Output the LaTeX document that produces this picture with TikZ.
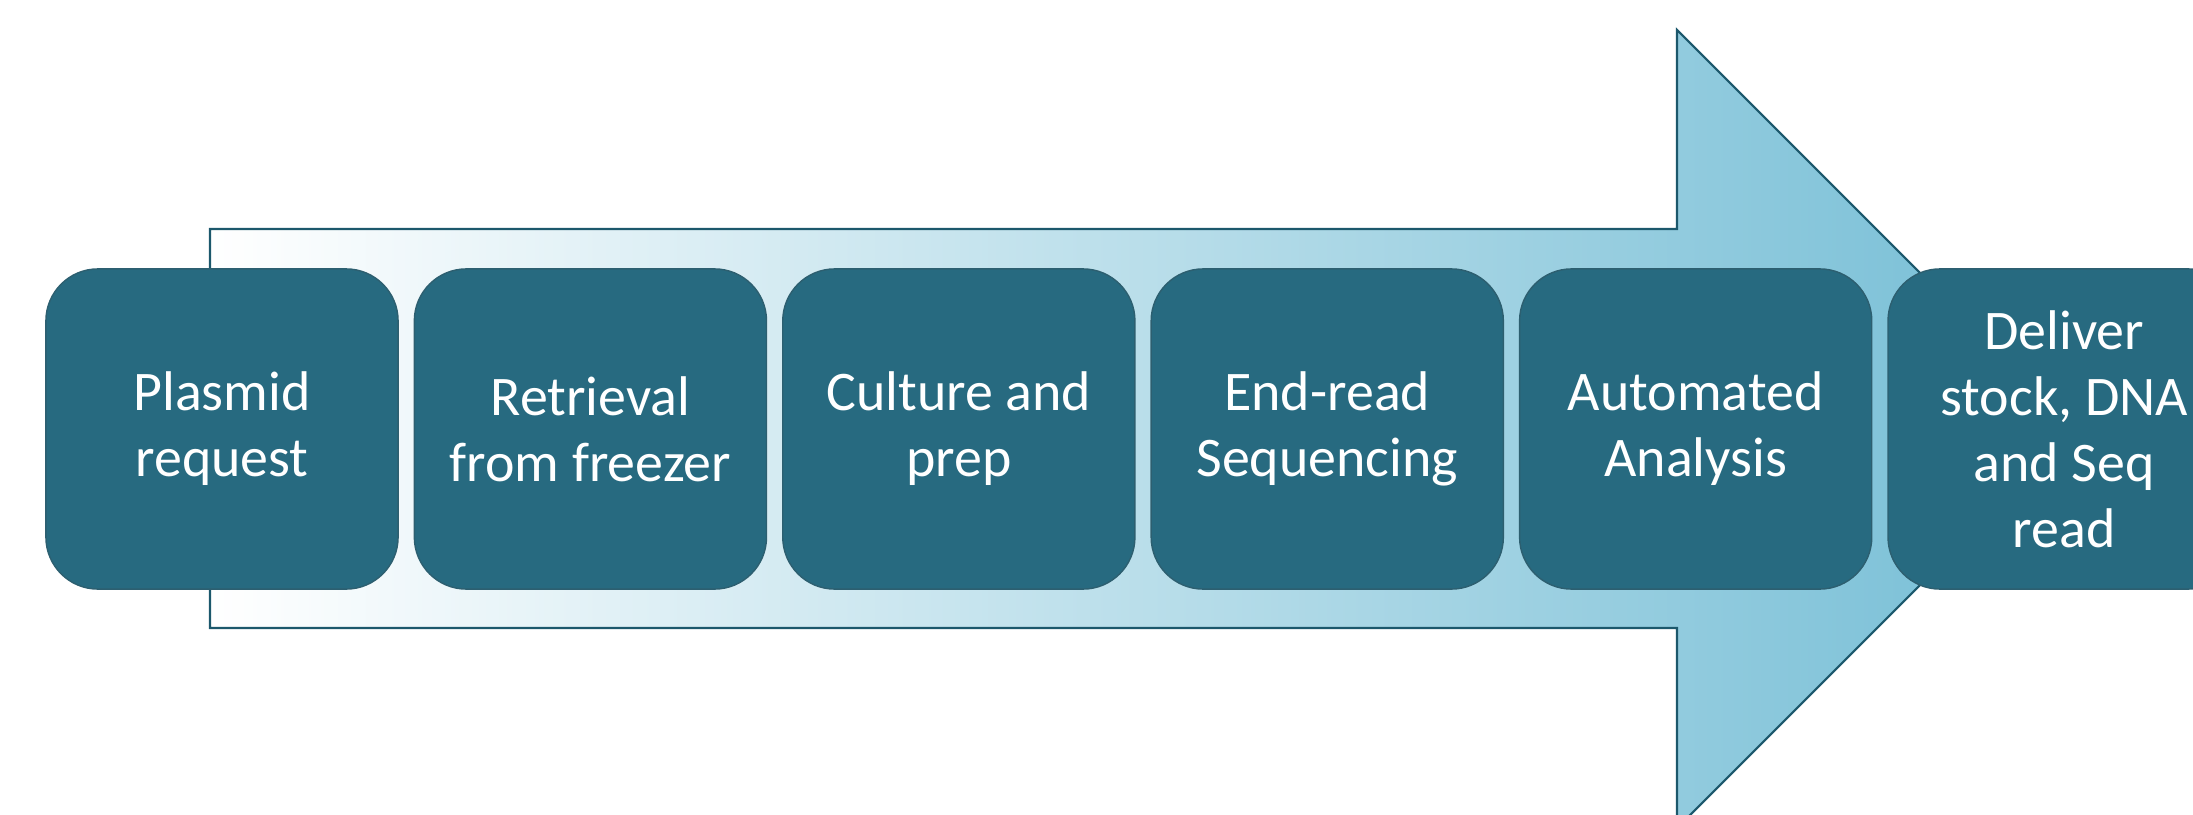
\documentclass[tikz,border=0pt]{standalone}
\usepackage{fontspec}
\setmainfont{Carlito}
\usetikzlibrary{positioning}
\definecolor{stageteal}{RGB}{39,106,128}
\definecolor{stageedge}{RGB}{45,95,112}
\definecolor{arrowblue}{RGB}{116,189,213}
\definecolor{arrowedge}{RGB}{28,88,108}

\begin{document}
\begin{tikzpicture}[x=0.01cm, y=-0.01cm, node distance = 0.148cm]
    \tikzstyle{stage} = [rectangle, rounded corners = 0.52cm, minimum width = 3.52cm, minimum height = 3.2cm, text centered, align = center, draw = stageedge, line width = 0.4pt, fill = stageteal, text = white, font = \fontsize{15.9}{18.8}\selectfont]
    \useasboundingbox (0,0) rectangle (2193,815);
    \clip (0,0) rectangle (2193,815);

    % Big arrow behind the stages
    \draw[arrowedge, line width = 0.6pt, left color = white, right color = arrowblue]
      (210,229) -- (1677,229) -- (1677,30) -- (2076,429) -- (1677,828) -- (1677,628) -- (210,628) -- cycle;

    % Stages
    \node[stage] (plasmid) at (222,429) {Plasmid\\request};
    \node[stage, right = of plasmid]   (retrieval) {Retrieval\\from freezer};
    \node[stage, right = of retrieval] (culture)   {Culture and\\prep};
    \node[stage, right = of culture]   (endread)   {End-read\\Sequencing};
    \node[stage, right = of endread]   (analysis)  {Automated\\Analysis};
    \node[stage, right = of analysis]  (deliver)   {Deliver\\stock, DNA\\and Seq\\read};
\end{tikzpicture}
\end{document}
